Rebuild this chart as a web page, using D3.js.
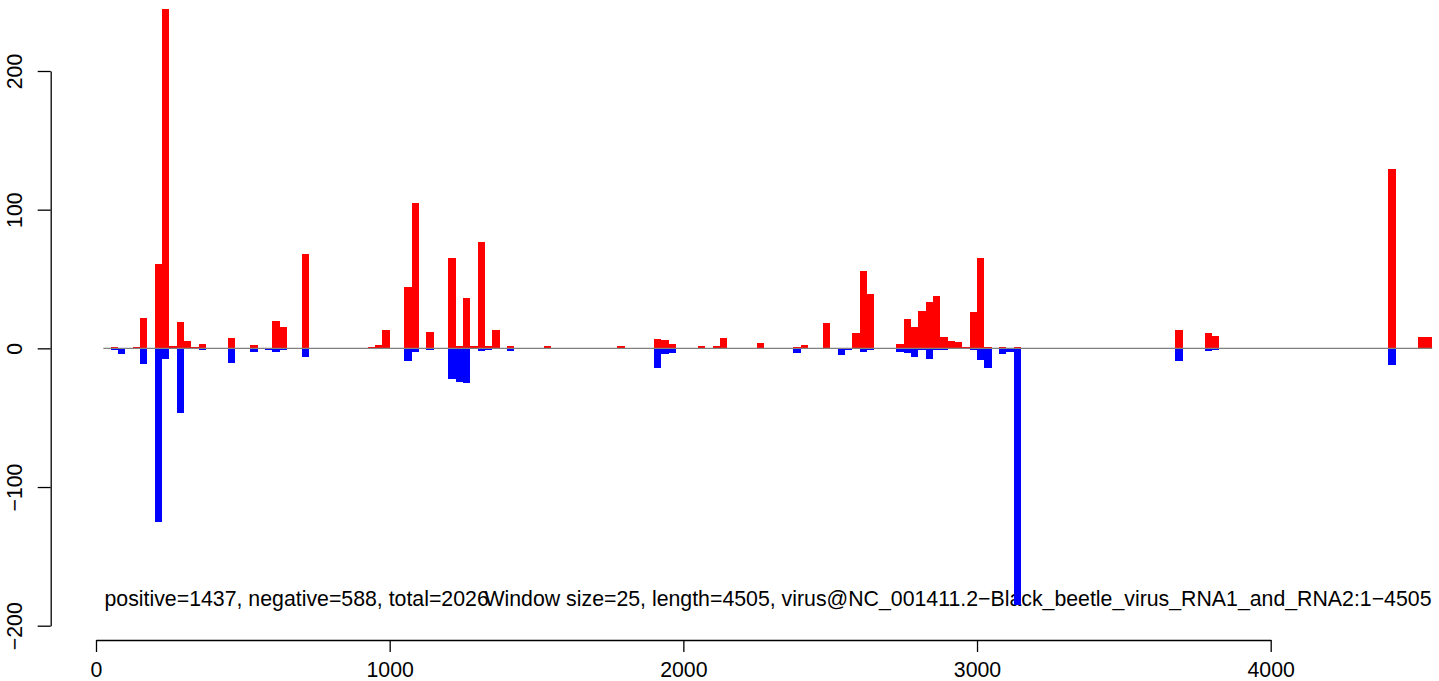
<!DOCTYPE html>
<html>
<head>
<meta charset="utf-8">
<script src="https://cdn.jsdelivr.net/npm/d3@7"></script>
<style>
body { margin: 0; background: #fff; }
svg text { font-family: "Liberation Sans", Arial, Helvetica, sans-serif; font-size: 21.3px; fill: #000; }
</style>
</head>
<body>
<svg id="chart" width="1439" height="681"></svg>
<script type="text/javascript">
// window start positions (size 25) and the read counts per strand
var windowStart = [50, 75, 100, 125, 150, 175, 200, 225, 250, 275, 300, 325, 350, 450, 525, 575, 600, 625, 700, 725,
  925, 950, 975, 1050, 1075, 1125, 1200, 1225, 1250, 1275, 1300, 1325, 1350, 1400, 1525, 1600, 1775,
  1900, 1925, 1950, 2025, 2050, 2100, 2125, 2250, 2375, 2400, 2475, 2525, 2550, 2575, 2600, 2625,
  2725, 2750, 2775, 2800, 2825, 2850, 2875, 2900, 2925, 2950, 2975, 3000, 3025, 3075, 3100, 3125,
  3675, 3775, 3800, 3825, 4400, 4500, 4525];
var positive = [1, 0.5, 0.5, 1, 22, 0.5, 61, 245, 2, 19, 5, 1, 3, 7.5, 2.5, 0.5, 20, 15.5, 68, 0.5,
  1, 2.5, 13, 44, 104.5, 12, 65.5, 1.5, 36.5, 1.5, 77, 1.5, 13, 1.5, 1.5, 0.5, 1.5,
  7, 6, 3, 0, 2, 2, 7.5, 4, 1, 2.5, 18.5, 0, 0.5, 11, 56, 39.5,
  3, 21, 15.5, 27, 33.5, 38, 8.5, 5.5, 4.5, 1, 26.5, 65, 1, 1, 0, 1,
  13.3, 11, 9, 0.5, 129.5, 8, 8];
var negative = [-1, -4, 0, -0.5, -11, 0, -125, -8, 0, -46.4, 0, 0, -1, -10.5, -2.5, -1, -2.5, -1, -6, 0,
  0, 0, -0.5, -9, -2.5, -1, -22, -24, -25, 0, -2, -1, 0, -2, 0, 0, 0,
  -14, -4, -3, -0.5, 0, 0, 0, 0, -3, 0, 0, -5, -1, 0, -2.5, -1,
  -2.5, -3, -6.5, -1, -8, -1, -1, 0, 0, 0, -1, -8.5, -14, -4, -2.5, -185,
  -9, -2, -1, 0, -12, -0.5, -0.5];
var windowSize = 25;
var zeroLineRange = [25, 4550];

var xTicks = [0, 1000, 2000, 3000, 4000];
var yTicks = [-200, -100, 0, 100, 200];

var leftLabel = "positive=1437, negative=588, total=2026";
var rightLabel = "Window size=25, length=4505, virus@NC_001411.2\u2212Black_beetle_virus_RNA1_and_RNA2:1\u22124505";

var svg = d3.select("#chart");

var x = d3.scaleLinear().domain([0, 4000]).range([96, 1270.7]);
var y = d3.scaleLinear().domain([-200, 200]).range([625.7, 71]);

// labels go first, bars are painted over them like in the original
svg.append("text").attr("x", 104.5).attr("y", 606).text(leftLabel);
svg.append("text").attr("x", 1431.5).attr("y", 606).attr("text-anchor", "end").text(rightLabel);

var rows = windowStart.map(function(s, i) {
  return { start: s, pos: positive[i], neg: negative[i] };
});

svg.append("g").selectAll("rect").data(rows).enter().append("rect")
  .attr("x", function(d) { return x(d.start); })
  .attr("width", function(d) { return x(d.start + windowSize) - x(d.start); })
  .attr("y", function(d) { return y(d.pos); })
  .attr("height", function(d) { return y(0) - y(d.pos); })
  .attr("fill", "#ff0000")
  .attr("shape-rendering", "crispEdges");

svg.append("g").selectAll("rect").data(rows).enter().append("rect")
  .attr("x", function(d) { return x(d.start); })
  .attr("width", function(d) { return x(d.start + windowSize) - x(d.start); })
  .attr("y", y(0))
  .attr("height", function(d) { return y(d.neg) - y(0); })
  .attr("fill", "#0000ff")
  .attr("shape-rendering", "crispEdges");

// zero line
svg.append("line")
  .attr("x1", x(zeroLineRange[0])).attr("x2", x(zeroLineRange[1]))
  .attr("y1", y(0)).attr("y2", y(0))
  .attr("stroke", "#808080").attr("stroke-width", 1.2);

// y axis (R style, labels rotated)
var yAxis = svg.append("g").attr("transform", "translate(50.7,0)")
  .call(d3.axisLeft(y).tickValues(yTicks).tickSize(13).tickSizeOuter(0).tickFormat(d3.format("d")));
yAxis.select(".domain").attr("stroke", "#000").attr("stroke-width", 1.3);
yAxis.selectAll(".tick line").attr("stroke", "#000").attr("stroke-width", 1.3);
yAxis.selectAll(".tick text")
  .attr("x", null).attr("dy", null)
  .attr("transform", "translate(-28.7,0) rotate(-90)")
  .attr("text-anchor", "middle")
  .style("font-size", "21.3px").style("font-family", "Liberation Sans, Arial, sans-serif")
  .text(function(d) { return d < 0 ? "\u2212" + Math.abs(d) : d; });

// x axis
var xAxis = svg.append("g").attr("transform", "translate(0,640)")
  .call(d3.axisBottom(x).tickValues(xTicks).tickSize(12).tickSizeOuter(0).tickFormat(d3.format("d")));
xAxis.select(".domain").attr("stroke", "#000").attr("stroke-width", 1.3);
xAxis.selectAll(".tick line").attr("stroke", "#000").attr("stroke-width", 1.3);
xAxis.selectAll(".tick text")
  .attr("y", 37).attr("dy", null)
  .style("font-size", "21.3px").style("font-family", "Liberation Sans, Arial, sans-serif");
</script>
</body>
</html>
